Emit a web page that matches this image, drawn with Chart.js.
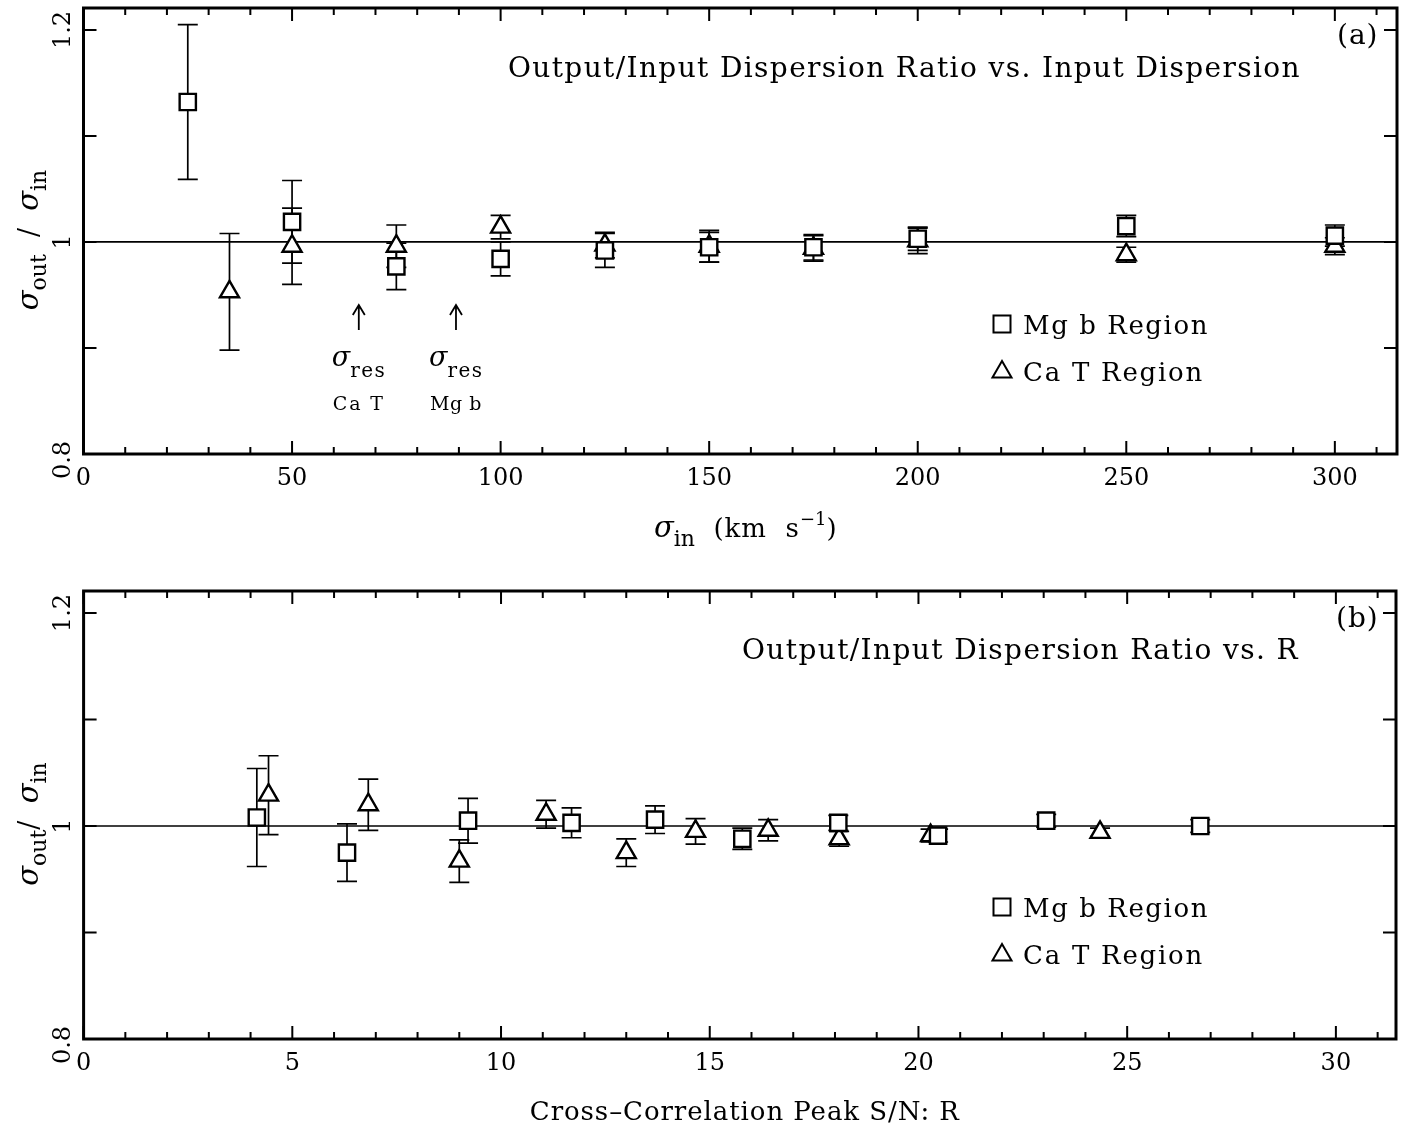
<!DOCTYPE html>
<html>
<head>
<meta charset="utf-8">
<script src="https://cdn.jsdelivr.net/npm/chart.js@4.4.0/dist/chart.umd.min.js"></script>
<style>
  body { margin: 0; background: #fff; width: 1405px; height: 1128px; position: relative; overflow: hidden; }
  canvas { position: absolute; left: 0; }
</style>
</head>
<body>
<canvas id="chartA" width="1405" height="564" style="top:0"></canvas>
<canvas id="chartB" width="1405" height="564" style="top:564px"></canvas>
<script>
// Panel (a): ratio vs input dispersion
var sigInMg = [25, 50, 75, 100, 125, 150, 175, 200, 250, 300];
var ratioMgA = [1.132, 1.019, 0.977, 0.984, 0.992, 0.995, 0.995, 1.003, 1.015, 1.006];
var errMgA = [0.073, 0.039, 0.022, 0.016, 0.016, 0.014, 0.012, 0.011, 0.010, 0.010];
var sigInCa = [35, 50, 75, 100, 125, 150, 175, 200, 250, 300];
var ratioCaA = [0.953, 0.996, 0.996, 1.014, 0.997, 0.996, 0.994, 1.001, 0.988, 0.996];
var errCaA = [0.055, 0.036, 0.020, 0.011, 0.012, 0.015, 0.012, 0.012, 0.007, 0.008];

// Panel (b): ratio vs cross-correlation peak S/N
var snMg = [4.15, 6.31, 9.21, 11.69, 13.69, 15.78, 18.08, 20.47, 23.06, 26.75];
var ratioMgB = [1.008, 0.975, 1.005, 1.003, 1.006, 0.988, 1.003, 0.991, 1.005, 1.000];
var errMgB = [0.046, 0.027, 0.021, 0.014, 0.013, 0.010, 0.007, 0.006, 0.006, 0.006];
var snCa = [4.43, 6.82, 9.0, 11.08, 13.0, 14.66, 16.4, 18.1, 20.29, 24.35];
var ratioCaB = [1.029, 1.020, 0.967, 1.011, 0.975, 0.995, 0.996, 0.988, 0.991, 0.994];
var errCaB = [0.037, 0.024, 0.020, 0.013, 0.013, 0.012, 0.010, 0.007, 0.006, 0.004];

// tick labels
var xLabelsA = [0, 50, 100, 150, 200, 250, 300];
var xLabelsB = [0, 5, 10, 15, 20, 25, 30];
var yLabels = [1.2, 1, 0.8];

var FONT = '"DejaVu Serif", "Liberation Serif", serif';

function setRunFont(ctx, r) {
    ctx.font = (r.it ? 'italic ' : '') + r.s + 'px ' + FONT;
    ctx.letterSpacing = '0px';
    var ls = r.ls || 0;
    if (r.w) {
        ls = (r.w - ctx.measureText(r.t).width) / r.t.length;
    }
    ctx.letterSpacing = ls + 'px';
}

// draws a list of text pieces (for sub/superscripts) one after the other
function drawRuns(ctx, runs, x, y, align) {
    var total = 0, i;
    for (i = 0; i < runs.length; i++) {
        setRunFont(ctx, runs[i]);
        total += ctx.measureText(runs[i].t).width;
    }
    var cx = align === 'center' ? x - total / 2 : x;
    ctx.textAlign = 'left';
    ctx.textBaseline = 'alphabetic';
    for (i = 0; i < runs.length; i++) {
        setRunFont(ctx, runs[i]);
        ctx.fillText(runs[i].t, cx, y + (runs[i].dy || 0));
        cx += ctx.measureText(runs[i].t).width;
    }
    ctx.letterSpacing = '0px';
}

function legendSquare(ctx, x, y, h) {
    ctx.strokeRect(x - h, y - h, 2 * h, 2 * h);
}
function legendTriangle(ctx, x, y, r) {
    ctx.beginPath();
    ctx.moveTo(x, y - r);
    ctx.lineTo(x + r * 0.866, y + r * 0.5);
    ctx.lineTo(x - r * 0.866, y + r * 0.5);
    ctx.closePath();
    ctx.stroke();
}

function makePanel(id, p) {
    var errPlugin = {
        id: 'errbars',
        beforeDatasetsDraw: function (chart) {
            var ctx = chart.ctx, xs = chart.scales.x, ys = chart.scales.y, a = chart.chartArea;
            ctx.save();
            // reference line at ratio = 1
            ctx.strokeStyle = '#000';
            ctx.lineWidth = 1.7;
            ctx.beginPath();
            ctx.moveTo(a.left, ys.getPixelForValue(1));
            ctx.lineTo(a.right, ys.getPixelForValue(1));
            ctx.stroke();
            chart.data.datasets.forEach(function (ds) {
                ds.data.forEach(function (pt, i) {
                    var px = xs.getPixelForValue(pt.x);
                    var hi = ys.getPixelForValue(pt.y + ds.err[i]);
                    var lo = ys.getPixelForValue(pt.y - ds.err[i]);
                    ctx.beginPath();
                    ctx.moveTo(px, hi); ctx.lineTo(px, lo);
                    ctx.moveTo(px - 10, hi); ctx.lineTo(px + 10, hi);
                    ctx.moveTo(px - 10, lo); ctx.lineTo(px + 10, lo);
                    ctx.stroke();
                });
            });
            ctx.restore();
        },
        afterDraw: function (chart) {
            var ctx = chart.ctx, xs = chart.scales.x, ys = chart.scales.y, a = chart.chartArea;
            ctx.save();
            ctx.strokeStyle = '#000';
            ctx.fillStyle = '#000';

            // ticks on all four sides, pointing inward
            ctx.lineWidth = 2;
            ctx.beginPath();
            for (var v = 0; v <= p.xMax + 1e-9; v += p.xMinor) {
                var px = xs.getPixelForValue(v);
                var isMajor = Math.abs(v / p.xMajor - Math.round(v / p.xMajor)) < 1e-6;
                var len = isMajor ? 13 : 7;
                ctx.moveTo(px, a.bottom); ctx.lineTo(px, a.bottom - len);
                ctx.moveTo(px, a.top); ctx.lineTo(px, a.top + len);
            }
            for (var k = 0; k <= 4; k++) {
                var py = ys.getPixelForValue(0.8 + k * 0.1);
                ctx.moveTo(a.left, py); ctx.lineTo(a.left + 13, py);
                ctx.moveTo(a.right, py); ctx.lineTo(a.right - 13, py);
            }
            ctx.stroke();

            // frame
            ctx.lineWidth = 3;
            ctx.strokeRect(a.left, a.top, a.right - a.left, a.bottom - a.top);

            // x tick labels
            ctx.font = '24px ' + FONT;
            ctx.textAlign = 'center';
            ctx.textBaseline = 'middle';
            p.xLabels.forEach(function (v) {
                ctx.fillText(String(v), xs.getPixelForValue(v), a.bottom + 25);
            });

            // y tick labels, rotated
            yLabels.forEach(function (v) {
                ctx.save();
                var py = ys.getPixelForValue(v) + (v === 0.8 ? 6 : 0);
                ctx.translate(70, py);
                ctx.rotate(-Math.PI / 2);
                ctx.font = '24px ' + FONT;
                ctx.textAlign = 'center';
                ctx.textBaseline = 'alphabetic';
                ctx.fillText(String(v), 0, 0);
                ctx.restore();
            });

            // y axis title
            ctx.save();
            ctx.translate(38, ys.getPixelForValue(1) - 2);
            ctx.rotate(-Math.PI / 2);
            drawRuns(ctx, p.yTitle, 0, 0, 'center');
            ctx.restore();

            // x axis title
            drawRuns(ctx, p.xTitle, (a.left + a.right) / 2 + 5, p.xTitleY, 'center');

            // panel title and tag
            drawRuns(ctx, [{ t: p.title, s: 28, w: p.titleW }], p.titleX, p.titleY, 'left');
            drawRuns(ctx, [{ t: p.tag, s: 28, ls: 1 }], a.right - 60, a.top + 36, 'left');

            // legend
            ctx.lineWidth = 2;
            legendSquare(ctx, 1002, p.legY, 8.5);
            legendTriangle(ctx, 1002, p.legY + 48, 11);
            drawRuns(ctx, [{ t: 'Mg b Region', s: 26, w: 186 }], 1023, p.legY + 10, 'left');
            drawRuns(ctx, [{ t: 'Ca T Region', s: 26, w: 181 }], 1023, p.legY + 57, 'left');

            if (p.extra) p.extra(chart, ctx);
            ctx.restore();
        }
    };

    function series(xArr, yArr) {
        return xArr.map(function (x, i) { return { x: x, y: yArr[i] }; });
    }

    return new Chart(document.getElementById(id), {
        type: 'scatter',
        data: {
            datasets: [
                {
                    label: 'Mg b Region',
                    data: series(p.mgX, p.mgY),
                    err: p.mgE,
                    pointStyle: 'rect',
                    pointRadius: 11.5,
                    pointHoverRadius: 11.5,
                    borderWidth: 2.4,
                    borderColor: '#000',
                    backgroundColor: '#fff'
                },
                {
                    label: 'Ca T Region',
                    data: series(p.caX, p.caY),
                    err: p.caE,
                    pointStyle: 'triangle',
                    pointRadius: 11,
                    pointHoverRadius: 11,
                    borderWidth: 2.4,
                    borderColor: '#000',
                    backgroundColor: '#fff'
                }
            ]
        },
        options: {
            responsive: false,
            animation: false,
            events: [],
            layout: { padding: p.pad, autoPadding: false },
            plugins: { legend: { display: false }, tooltip: { enabled: false } },
            scales: {
                x: { type: 'linear', min: 0, max: p.xMax, display: false },
                y: { type: 'linear', min: 0.8, max: 1.2207, display: false }
            }
        },
        plugins: [errPlugin]
    });
}

// arrows and sigma_res notes of panel (a)
function resolutionNotes(chart, ctx) {
    var xs = chart.scales.x;
    var notes = [
        { v: 66, label: 'Ca T' },
        { v: 89.3, label: 'Mg b' }
    ];
    ctx.lineWidth = 1.8;
    notes.forEach(function (n) {
        var px = xs.getPixelForValue(n.v);
        ctx.beginPath();
        ctx.moveTo(px, 330); ctx.lineTo(px, 305);
        ctx.moveTo(px - 6, 315); ctx.lineTo(px, 305); ctx.lineTo(px + 6, 315);
        ctx.stroke();
        drawRuns(ctx, [{ t: 'σ', s: 27, it: true }, { t: 'res', s: 20, dy: 11, w: 36 }], px - 27, 366, 'left');
        drawRuns(ctx, [{ t: n.label, s: 19, w: 52 }], px - 26, 410, 'left');
    });
}

makePanel('chartA', {
    mgX: sigInMg, mgY: ratioMgA, mgE: errMgA,
    caX: sigInCa, caY: ratioCaA, caE: errCaA,
    xMax: 314.9, xMinor: 10, xMajor: 50, xLabels: xLabelsA,
    pad: { left: 83.5, right: 8, top: 8, bottom: 110 },
    title: 'Output/Input Dispersion Ratio vs. Input Dispersion', titleX: 508, titleY: 77, titleW: 793,
    tag: '(a)', legY: 324,
    yTitle: [{ t: 'σ', s: 29, it: true }, { t: 'out', s: 22, dy: 8 }, { t: '  /  ', s: 27 }, { t: 'σ', s: 29, it: true }, { t: 'in', s: 22, dy: 8 }],
    xTitle: [{ t: 'σ', s: 29, it: true }, { t: 'in', s: 22, dy: 9 }, { t: '  (km  s', s: 26, ls: 1 }, { t: '−1', s: 18, dy: -12 }, { t: ')', s: 26 }],
    xTitleY: 537,
    extra: resolutionNotes
});

makePanel('chartB', {
    mgX: snMg, mgY: ratioMgB, mgE: errMgB,
    caX: snCa, caY: ratioCaB, caE: errCaB,
    xMax: 31.44, xMinor: 1, xMajor: 5, xLabels: xLabelsB,
    pad: { left: 83.6, right: 9, top: 27, bottom: 89 },
    title: 'Output/Input Dispersion Ratio vs. R', titleX: 742, titleY: 95, titleW: 557,
    tag: '(b)', legY: 343,
    yTitle: [{ t: 'σ', s: 29, it: true }, { t: 'out', s: 22, dy: 8 }, { t: '/  ', s: 27 }, { t: 'σ', s: 29, it: true }, { t: 'in', s: 22, dy: 8 }],
    xTitle: [{ t: 'Cross–Correlation Peak S/N: R', s: 26, w: 430 }],
    xTitleY: 556
});
</script>
</body>
</html>
